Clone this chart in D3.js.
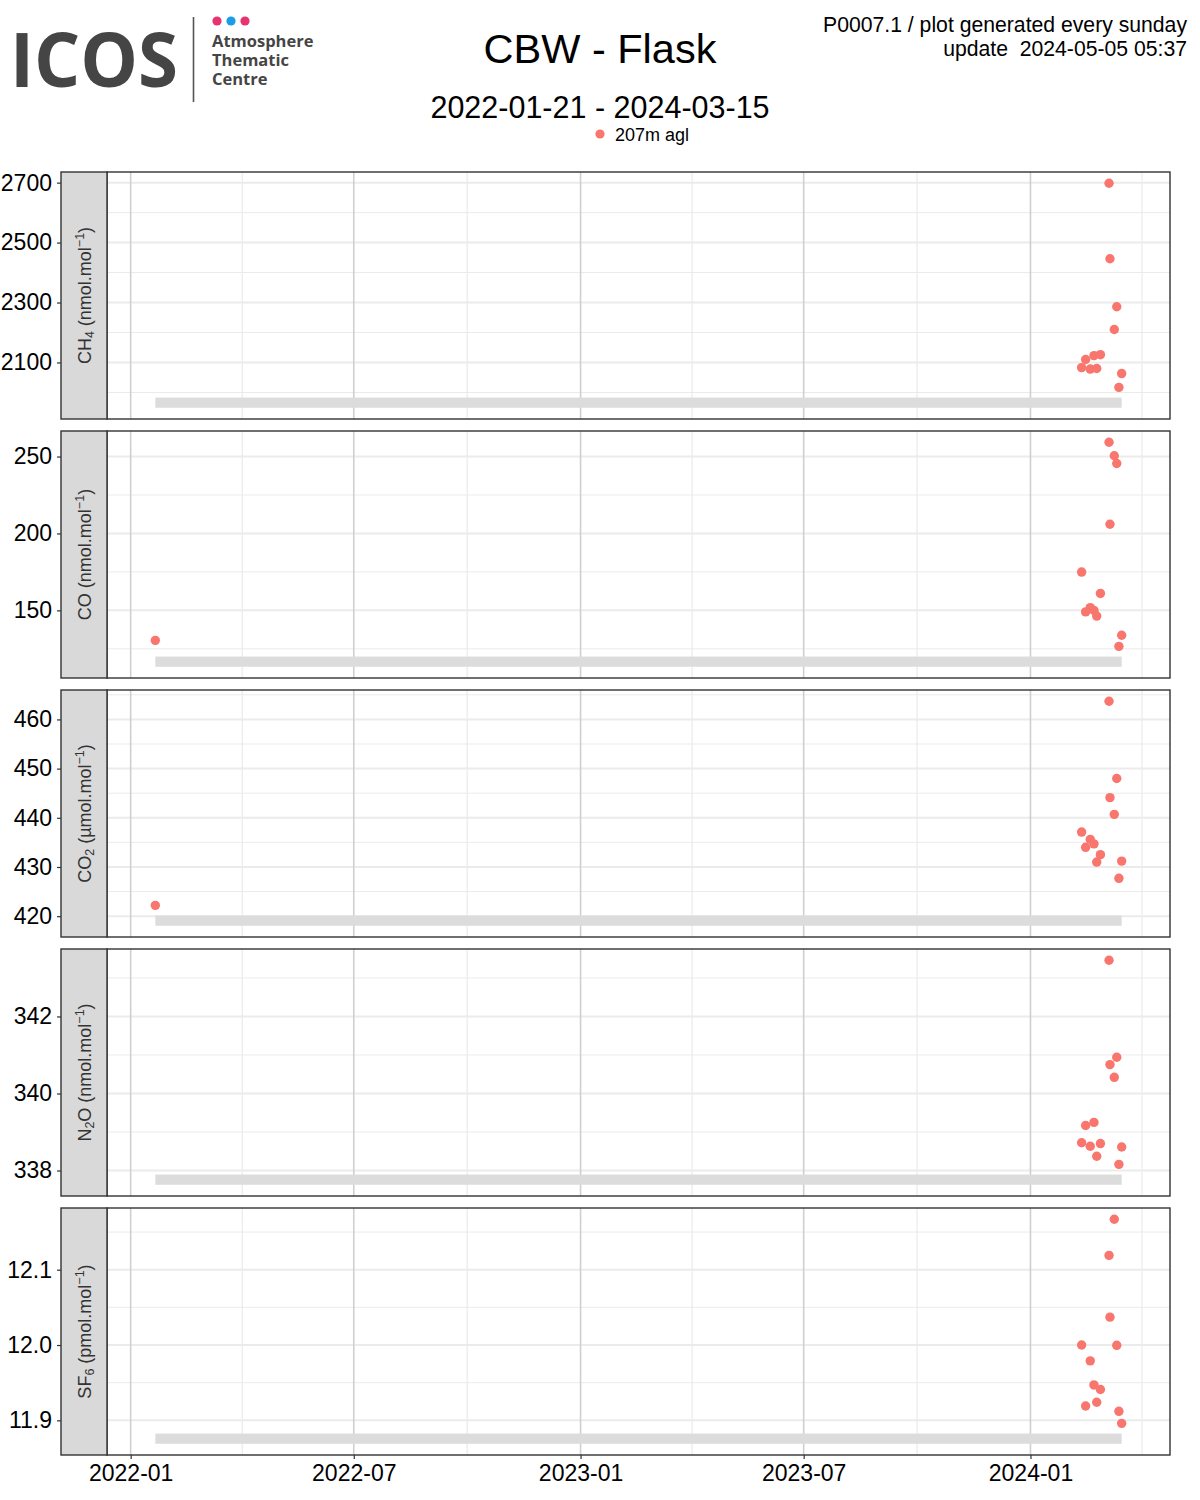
<!DOCTYPE html>
<html>
<head>
<meta charset="utf-8">
<script src="https://cdn.jsdelivr.net/npm/d3@7"></script>
<style>
  html, body { margin: 0; padding: 0; background: #fff; }
  svg text { font-family: "Liberation Sans", Arial, Helvetica, sans-serif; }
</style>
</head>
<body>
<svg id="chart" width="1200" height="1500"></svg>
<script>
// Flask sampling dates (CBW, 207m agl)
const sampleDates = [
  "2022-01-21T00:00", "2024-02-11T12:00", "2024-02-14T18:00", "2024-02-18T12:00",
  "2024-02-21T12:00", "2024-02-23T18:00", "2024-02-26T18:00", "2024-03-04T18:00",
  "2024-03-05T12:00", "2024-03-09T00:00", "2024-03-11T00:00", "2024-03-12T18:00",
  "2024-03-15T00:00"
];
// Mole fractions per species (null = no valid measurement)
const ch4 = [null, 2083, 2110, 2078, 2123, 2080, 2126, 2698, 2446, 2210, 2286, 2017, 2063];
const co  = [130.5, 174.9, 149.0, 151.8, 150.0, 146.3, 161.0, 259.3, 206.0, 250.5, 245.5, 126.6, 133.8];
const co2 = [422.2, 437.1, 434.0, 435.6, 434.7, 431.0, 432.5, 463.7, 444.1, 440.7, 448.0, 427.7, 431.2];
const n2o = [null, 338.72, 339.17, 338.63, 339.25, 338.37, 338.70, 343.46, 340.75, 340.42, 340.94, 338.16, 338.61];
const sf6 = [null, 12.000, 11.919, 11.979, 11.947, 11.924, 11.941, 12.119, 12.037, 12.167, 11.9996, 11.912, 11.896];

// Sampling period shown as the grey band in every panel
const periodStart = "2022-01-21";
const periodEnd = "2024-03-15";

// Axis breaks
const xBreaks = ["2022-01-01", "2022-07-01", "2023-01-01", "2023-07-01", "2024-01-01"];
const ch4Ticks = [2100, 2300, 2500, 2700];
const coTicks = [150, 200, 250];
const co2Ticks = [420, 430, 440, 450, 460];
const n2oTicks = [338, 340, 342];
const sf6Ticks = [11.9, 12.0, 12.1];

const species = [
  { values: ch4, ticks: ch4Ticks, fmt: d3.format("d"),   label: [["CH", 0], ["4", -1], [" (nmol.mol", 0], ["−1", 1], [")", 0]] },
  { values: co,  ticks: coTicks,  fmt: d3.format("d"),   label: [["CO (nmol.mol", 0], ["−1", 1], [")", 0]] },
  { values: co2, ticks: co2Ticks, fmt: d3.format("d"),   label: [["CO", 0], ["2", -1], [" (µmol.mol", 0], ["−1", 1], [")", 0]] },
  { values: n2o, ticks: n2oTicks, fmt: d3.format("d"),   label: [["N", 0], ["2", -1], ["O (nmol.mol", 0], ["−1", 1], [")", 0]] },
  { values: sf6, ticks: sf6Ticks, fmt: d3.format(".1f"), label: [["SF", 0], ["6", -1], [" (pmol.mol", 0], ["−1", 1], [")", 0]] }
];

const svg = d3.select("#chart");
const parse = d3.isoParse;
const dates = sampleDates.map(parse);

// Layout
const stripX = 61, stripW = 46;
const panelL = stripX + stripW, panelR = 1170;
const panelTop0 = 172, panelH = 247, panelStep = 259;
const pointColor = "#F8766D";

// Shared time scale with 5% padding on both sides
const t0 = parse(periodStart), t1 = parse(periodEnd);
const span = t1 - t0;
const x = d3.scaleTime()
  .domain([new Date(+t0 - 0.05 * span), new Date(+t1 + 0.05 * span)])
  .range([panelL, panelR]);
const majorX = xBreaks.map(parse);
const minorX = d3.pairs(majorX).map(([a, b]) => new Date((+a + +b) / 2));
minorX.push(new Date(+majorX[majorX.length - 1] + (majorX[1] - majorX[0]) / 2));

// ---------- header ----------
const logo = svg.append("g");
logo.append("text").attr("x", 10).attr("y", 87)
  .style("font-family", "'Open Sans', sans-serif").style("font-weight", 700)
  .style("font-size", "76px").attr("fill", "#454545")
  .attr("textLength", 168).attr("lengthAdjust", "spacingAndGlyphs")
  .text("ICOS");
logo.append("line").attr("x1", 193.5).attr("x2", 193.5).attr("y1", 17).attr("y2", 102)
  .attr("stroke", "#555").attr("stroke-width", 1.6);
[["#e8336f", 217], ["#1a9ce8", 231], ["#e8336f", 245]].forEach(([c, cx]) =>
  logo.append("circle").attr("cx", cx).attr("cy", 21).attr("r", 4.6).attr("fill", c));
const logoText = logo.append("text").attr("x", 212).attr("y", 47)
  .style("font-family", "'Open Sans', sans-serif").style("font-weight", 700)
  .style("font-size", "16.5px").attr("fill", "#454545");
["Atmosphere", "Thematic", "Centre"].forEach((t, i) =>
  logoText.append("tspan").attr("x", 212).attr("dy", i === 0 ? 0 : 19).text(t));

svg.append("text").attr("x", 600).attr("y", 63).attr("text-anchor", "middle")
  .style("font-size", "41.5px").attr("fill", "#000").text("CBW - Flask");
svg.append("text").attr("x", 600).attr("y", 118).attr("text-anchor", "middle")
  .style("font-size", "30.5px").attr("fill", "#000").text(`${periodStart} - ${periodEnd}`);
svg.append("circle").attr("cx", 600).attr("cy", 134).attr("r", 4.6).attr("fill", pointColor);
svg.append("text").attr("x", 615).attr("y", 141)
  .style("font-size", "18px").attr("fill", "#000").text("207m agl");

svg.append("text").attr("x", 1187).attr("y", 32).attr("text-anchor", "end")
  .style("font-size", "21.2px").attr("fill", "#000").text("P0007.1 / plot generated every sunday");
svg.append("text").attr("x", 1187).attr("y", 56).attr("text-anchor", "end")
  .style("font-size", "21.2px").style("white-space", "pre").attr("fill", "#000")
  .text("update  2024-05-05 05:37");

// ---------- panels ----------
species.forEach((sp, i) => {
  const top = panelTop0 + i * panelStep, bottom = top + panelH;
  const vals = sp.values.filter(v => v != null);
  const vMin = d3.min(vals), vMax = d3.max(vals), r = vMax - vMin;
  // Grey period band sits just below the lowest sample
  const bandLo = vMin - 0.10 * r, bandHi = vMin - 0.05 * r;
  const full = vMax - bandLo;
  const y = d3.scaleLinear()
    .domain([bandLo - 0.05 * full, vMax + 0.05 * full])
    .range([bottom, top]);

  const g = svg.append("g");
  const step = sp.ticks[1] - sp.ticks[0];
  const minorY = [sp.ticks[0] - step / 2, ...sp.ticks.map(t => t + step / 2)]
    .filter(v => y(v) > top && y(v) < bottom);

  // grid
  g.selectAll(".ymin").data(minorY).join("line")
    .attr("x1", panelL).attr("x2", panelR).attr("y1", d => y(d)).attr("y2", d => y(d))
    .attr("stroke", "#ebebeb").attr("stroke-width", 1);
  g.selectAll(".ymaj").data(sp.ticks).join("line")
    .attr("x1", panelL).attr("x2", panelR).attr("y1", d => y(d)).attr("y2", d => y(d))
    .attr("stroke", "#ebebeb").attr("stroke-width", 2);
  g.selectAll(".xmin").data(minorX.filter(d => x(d) > panelL && x(d) < panelR)).join("line")
    .attr("x1", d => x(d)).attr("x2", d => x(d)).attr("y1", top).attr("y2", bottom)
    .attr("stroke", "#ebebeb").attr("stroke-width", 1.2);
  g.selectAll(".xmaj").data(majorX).join("line")
    .attr("x1", d => x(d)).attr("x2", d => x(d)).attr("y1", top).attr("y2", bottom)
    .attr("stroke", "#cfcfcf").attr("stroke-width", 1.6);

  // sampling period band
  g.append("rect")
    .attr("x", x(t0)).attr("width", x(t1) - x(t0))
    .attr("y", y(bandHi)).attr("height", y(bandLo) - y(bandHi))
    .attr("fill", "#dcdcdc");

  // samples
  const pts = dates.map((d, k) => ({ d, v: sp.values[k] })).filter(p => p.v != null);
  g.selectAll(".pt").data(pts).join("circle")
    .attr("cx", p => x(p.d)).attr("cy", p => y(p.v)).attr("r", 4.7)
    .attr("fill", pointColor);

  // panel border
  g.append("rect").attr("x", panelL).attr("y", top).attr("width", panelR - panelL).attr("height", panelH)
    .attr("fill", "none").attr("stroke", "#333").attr("stroke-width", 1.4);

  // strip
  g.append("rect").attr("x", stripX).attr("y", top).attr("width", stripW).attr("height", panelH)
    .attr("fill", "#d9d9d9").attr("stroke", "#333").attr("stroke-width", 1.4);
  const lab = g.append("text")
    .attr("transform", `translate(${stripX + stripW / 2 + 7},${(top + bottom) / 2}) rotate(-90)`)
    .attr("text-anchor", "middle").style("font-size", "18px").attr("fill", "#333");
  sp.label.forEach(([t, s]) => {
    const ts = lab.append("tspan").text(t);
    if (s !== 0) ts.style("font-size", "12.5px").attr("baseline-shift", s > 0 ? "55%" : "-25%");
  });

  // y axis, left of the strip
  const ya = g.append("g").attr("transform", `translate(${stripX},0)`)
    .call(d3.axisLeft(y).tickValues(sp.ticks).tickFormat(sp.fmt).tickSize(4).tickPadding(5));
  ya.select(".domain").remove();
  ya.selectAll(".tick line").attr("stroke", "#333").attr("stroke-width", 1.2);
  ya.selectAll(".tick text").style("font-size", "23px").attr("fill", "#000")
    .style("font-family", "'Liberation Sans', Arial, sans-serif");

  if (i === species.length - 1) {
    const xa = g.append("g").attr("transform", `translate(0,${bottom})`)
      .call(d3.axisBottom(x).tickValues(majorX).tickFormat(d3.timeFormat("%Y-%m")).tickSize(4).tickPadding(6));
    xa.select(".domain").remove();
    xa.selectAll(".tick line").attr("stroke", "#333").attr("stroke-width", 1.2);
    xa.selectAll(".tick text").style("font-size", "23px").attr("fill", "#000")
      .style("font-family", "'Liberation Sans', Arial, sans-serif");
  }
});
</script>
</body>
</html>
